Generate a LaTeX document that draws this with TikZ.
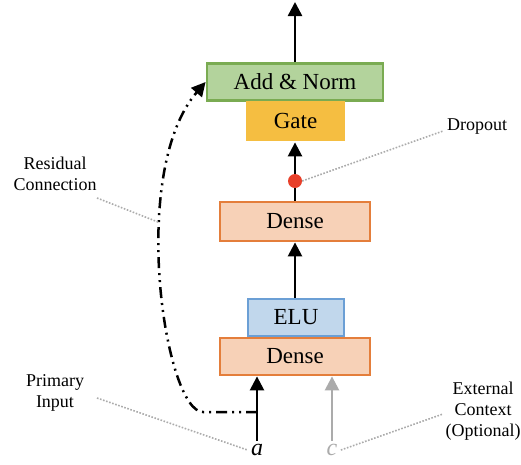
\documentclass[tikz,border=0pt]{standalone}
\usepackage{fontspec}
\setmainfont{Liberation Serif}
\usetikzlibrary{arrows.meta}
\definecolor{normfill}{HTML}{B3D39C}
\definecolor{normdraw}{HTML}{7AAB52}
\definecolor{gatefill}{HTML}{F5BE41}
\definecolor{densefill}{HTML}{F7D1B7}
\definecolor{densedraw}{HTML}{E47E3B}
\definecolor{elufill}{HTML}{C1D7EC}
\definecolor{eludraw}{HTML}{6B9FD5}
\definecolor{dropred}{HTML}{E8402A}
\definecolor{ctxgray}{HTML}{ABABAB}
\tikzset{
  layer/.style={minimum height=37pt, inner sep=0pt, line width=2.8pt,
    font=\fontsize{23}{23}\selectfont},
  flow/.style={line width=2.5pt, -{Triangle[width=14pt,length=14pt]}},
  note/.style={font=\fontsize{18}{21}\selectfont, align=center},
  pointer/.style={ctxgray, line width=1.6pt, dash pattern=on 1.6pt off 1.6pt},
  residual/.style={line width=2.5pt, dash pattern=on 11pt off 5pt on 2pt off 5pt on 2pt off 5pt,
    -{Triangle[width=14pt,length=14pt]}}
}
\begin{document}
\begin{tikzpicture}[x=1pt,y=-1pt]
\useasboundingbox (0,0) rectangle (521,464);

% stacked layers
\node[layer, fill=normfill, draw=normdraw, minimum width=176pt] (norm) at (295,82) {Add \& Norm};
\node[layer, fill=gatefill, minimum width=99pt, minimum height=40pt] (gate) at (295.5,121) {Gate};
\node[layer, fill=densefill, draw=densedraw, minimum width=150pt, minimum height=39pt] (dense2) at (295,221.5) {Dense};
\node[layer, fill=elufill, draw=eludraw, minimum width=96pt] (elu) at (296,317.5) {ELU};
\node[layer, fill=densefill, draw=densedraw, minimum width=150pt] (dense1) at (295,356.5) {Dense};

% dropout point
\node[circle, fill=dropred, inner sep=0pt, minimum size=14pt] (drop) at (295,181) {};

% inputs
\node[font=\fontsize{24}{24}\selectfont\itshape] (a) at (257,450) {a};
\node[font=\fontsize{24}{24}\selectfont\itshape, text=ctxgray] (c) at (332,450) {c};
\coordinate (out) at (295,2);
\coordinate (split) at (257,412);

% main flow
\draw[flow] (norm.north) -- (out);
\draw[flow] (drop) -- (gate.south -| drop);
\draw[line width=2.5pt] (dense2.north) -- (drop);
\draw[flow] (elu.north -| dense2.south) -- (dense2.south);
\draw[flow] (a.north) -- (a.north |- dense1.south);
\draw[flow, ctxgray] (c.north) -- (c.north |- dense1.south);

% skip connection
\draw[residual] (split) -- (203,412) .. controls (165,412) and (128,172) .. (norm.west);

% annotations
\node[note] (resnote) at (55,174) {Residual\\Connection};
\node[note] (dropnote) at (477,127) {Dropout};
\node[note] (primnote) at (55,393) {Primary\\Input};
\node[note] (extnote) at (483,411) {External\\Context\\(Optional)};
\coordinate (respt) at (158,222);
\draw[pointer] (97,198) -- (respt);
\draw[pointer] (drop.east) -- (443,131);
\draw[pointer] (97,398) -- (a.west);
\draw[pointer] (c.east) -- (443,414);
\end{tikzpicture}
\end{document}
